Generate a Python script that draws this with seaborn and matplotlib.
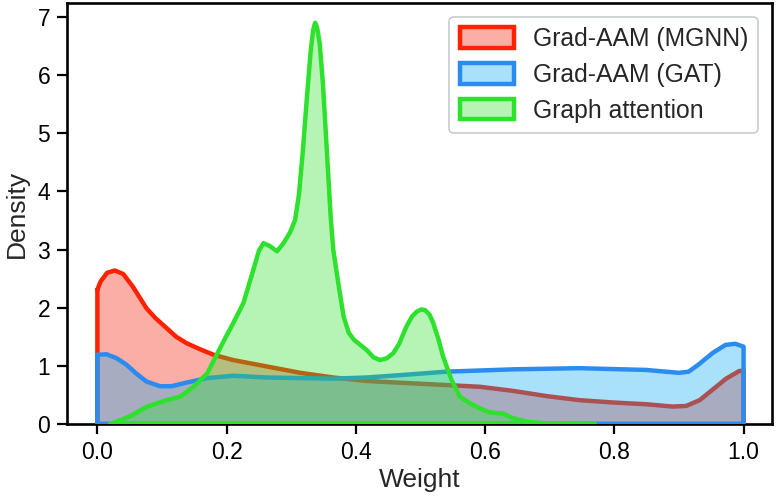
import numpy as np
import pandas as pd
import matplotlib
matplotlib.use("Agg")
import matplotlib.pyplot as plt
from matplotlib.colors import to_rgba
from matplotlib.patches import Patch
import seaborn as sns

# ---- data ----
labels = ["Grad-AAM (MGNN)", "Grad-AAM (GAT)", "Graph attention"]
line_colors = ["#ff2200", "#2a8cf0", "#2de12d"]
fill_colors = ["#f41800", "#0ca9f1", "#2ee12e"]

x_mgnn = [0.0, 0.005, 0.015, 0.027, 0.04, 0.055, 0.076, 0.09, 0.107, 0.122, 0.138, 0.16,
          0.18, 0.21, 0.262, 0.314, 0.365, 0.417, 0.468, 0.54, 0.592, 0.643, 0.695,
          0.746, 0.798, 0.849, 0.89, 0.911, 0.932, 0.952, 0.973, 0.993, 1.0]
d_mgnn = [2.31, 2.45, 2.6, 2.64, 2.58, 2.36, 1.99, 1.82, 1.65, 1.5, 1.39, 1.28,
          1.19, 1.10, 0.99, 0.88, 0.80, 0.74, 0.71, 0.67, 0.64, 0.57, 0.48,
          0.41, 0.37, 0.34, 0.30, 0.31, 0.41, 0.59, 0.78, 0.91, 0.92]

x_gat = [0.0, 0.014, 0.03, 0.045, 0.06, 0.076, 0.097, 0.115, 0.133, 0.17, 0.21, 0.262,
         0.314, 0.365, 0.417, 0.468, 0.54, 0.643, 0.746, 0.849, 0.9, 0.915, 0.93,
         0.952, 0.972, 0.987, 1.0]
d_gat = [1.19, 1.2, 1.13, 1.02, 0.87, 0.73, 0.65, 0.65, 0.70, 0.79, 0.83, 0.80,
         0.79, 0.78, 0.80, 0.84, 0.90, 0.94, 0.96, 0.93, 0.88, 0.90, 1.02,
         1.22, 1.36, 1.38, 1.33]

x_att = [0.02, 0.05, 0.077, 0.107, 0.128, 0.149, 0.17, 0.186, 0.198, 0.21, 0.226, 0.24,
         0.25, 0.257, 0.267, 0.278, 0.288, 0.298, 0.306, 0.312, 0.318, 0.324, 0.330,
         0.334, 0.337, 0.340, 0.344, 0.349, 0.355, 0.361, 0.365, 0.373, 0.381, 0.389,
         0.397, 0.407, 0.417, 0.427, 0.437, 0.448, 0.458, 0.467, 0.478, 0.487, 0.494,
         0.501, 0.507, 0.514, 0.52, 0.528, 0.535, 0.548, 0.561, 0.576, 0.592, 0.607,
         0.628, 0.643, 0.664, 0.695, 0.73, 0.77]
d_att = [0.0, 0.13, 0.30, 0.41, 0.47, 0.64, 0.87, 1.22, 1.48, 1.73, 2.08, 2.6,
         2.98, 3.11, 3.06, 2.97, 3.11, 3.29, 3.51, 3.95, 4.7, 5.58, 6.4,
         6.78, 6.9, 6.82, 6.55, 5.86, 4.72, 3.57, 3.0, 2.41, 1.85, 1.57,
         1.45, 1.36, 1.27, 1.15, 1.10, 1.13, 1.22, 1.38, 1.67, 1.85, 1.93,
         1.97, 1.96, 1.88, 1.73, 1.45, 1.16, 0.76, 0.47, 0.36, 0.27, 0.20,
         0.18, 0.10, 0.04, 0.01, 0.003, 0.0]

series = [(x_mgnn, d_mgnn), (x_gat, d_gat), (x_att, d_att)]

# ---- style ----
sns.set_style("ticks")
plt.rcParams["font.family"] = ["Liberation Sans", "DejaVu Sans"]

fig = plt.figure(figsize=(7.79, 5.03), dpi=100)
ax = fig.add_axes([67 / 779, 1 - 424 / 503, (772 - 67) / 779, (424 - 3) / 503])

alpha = 0.35
lw = 3.2
for i, ((xs, ys), lab, lc, fc) in enumerate(zip(series, labels, line_colors, fill_colors)):
    xs = np.asarray(xs, float)
    ys = np.asarray(ys, float)
    z = 2 + i * 2
    ax.fill_between(xs, ys, 0, facecolor=to_rgba(fc, alpha), edgecolor="none",
                    zorder=z)
    # closed outline (curve + vertical ends + baseline)
    ox = np.concatenate([xs, [xs[-1], xs[0], xs[0]]])
    oy = np.concatenate([ys, [0.0, 0.0, ys[0]]])
    outline = pd.DataFrame({"x": ox, "y": oy})
    sns.lineplot(data=outline, x="x", y="y", sort=False, estimator=None,
                 color=lc, linewidth=lw, ax=ax, zorder=z + 1,
                 solid_joinstyle="round", solid_capstyle="round")

ax.set_xlim(-0.047, 1.044)
ax.set_ylim(0, 7.24)
ax.set_xticks([0.0, 0.2, 0.4, 0.6, 0.8, 1.0])
ax.set_xticklabels(["0.0", "0.2", "0.4", "0.6", "0.8", "1.0"])
ax.set_yticks(range(0, 8))
ax.set_xlabel("Weight", fontsize=19, labelpad=3)
ax.set_ylabel("Density", fontsize=19, labelpad=6)
ax.tick_params(axis="both", labelsize=16.5, length=7, width=1.6, color="black",
               labelcolor="black", pad=5)
for s in ax.spines.values():
    s.set_linewidth(1.9)
    s.set_color("black")
    s.set_zorder(1)

handles = [Patch(facecolor=to_rgba(fc, alpha), edgecolor=lc, linewidth=lw, label=l)
           for l, lc, fc in zip(labels, line_colors, fill_colors)]
leg = ax.legend(handles=handles, loc="upper right", fontsize=17.8, frameon=True,
                fancybox=True, borderaxespad=0.55, handlelength=2.2, handleheight=0.9,
                labelspacing=0.48, handletextpad=0.75, borderpad=0.42)
leg.get_frame().set_edgecolor("#b8c0c4")
leg.get_frame().set_linewidth(1.2)
leg.set_zorder(20)

fig.savefig("out.png", dpi=100)
